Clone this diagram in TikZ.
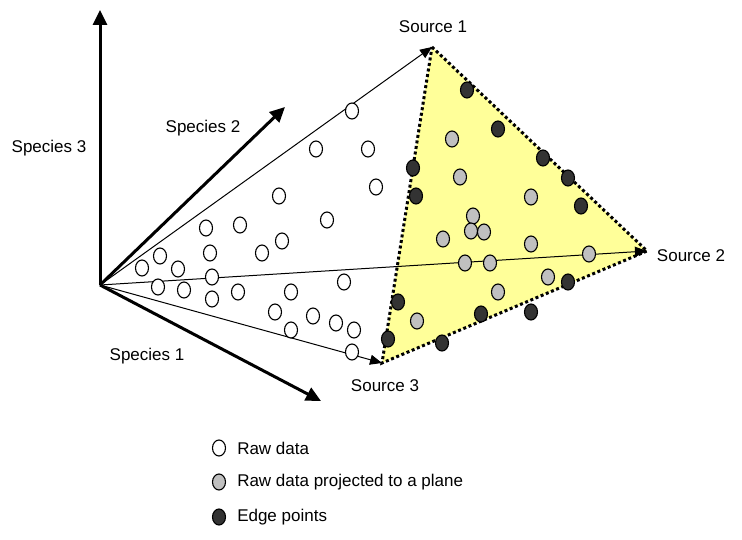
\documentclass[tikz,border=0pt]{standalone}
\usepackage{fontspec}
\setmainfont{Liberation Sans}
\usepackage{tikz}
\usetikzlibrary{arrows.meta,shapes.geometric,positioning}
\definecolor{planefill}{RGB}{255,255,153}
\definecolor{projgray}{RGB}{192,192,192}
\definecolor{edgegray}{RGB}{51,51,51}
\tikzstyle{pt}=[ellipse, draw=black, line width=1.1pt, minimum width=13pt, minimum height=16pt, inner sep=0pt]
\tikzstyle{raw}=[pt, fill=white]
\tikzstyle{proj}=[pt, fill=projgray]
\tikzstyle{edgept}=[pt, fill=edgegray]
\tikzstyle{axis}=[line width=3pt, -{Triangle[length=15pt,width=14pt]}]
\tikzstyle{ray}=[line width=1pt, -{Triangle[length=12pt,width=10pt]}]
\tikzstyle{rim}=[line width=3pt, dash pattern=on 3pt off 2.6pt]
\tikzstyle{lbl}=[font=\fontsize{17}{20}\selectfont, inner sep=0pt]

\begin{document}
\begin{tikzpicture}[x=1pt,y=-1pt]
				\useasboundingbox (0,0) rectangle (742,540);
				\coordinate(O)at(100,285);
				\coordinate(A3)at(100,10);
				\coordinate(A2)at(285,107);
				\coordinate(A1)at(321,401);
				\coordinate(S1)at(432,47);
				\coordinate(S2)at(647,251);
				\coordinate(S3)at(382,363);
				% plane through the three sources
				\fill[planefill](S1)--(S2)--(S3)--cycle;
				\draw[ray](O)--(S1);
				\draw[ray](O)--(S2);
				\draw[ray](O)--(S3);
				\draw[rim](S1)--(S2)--(S3)--cycle;
				\draw[axis](O)--(A3);
				\draw[axis](O)--(A2);
				\draw[axis](O)--(A1);
				\node[lbl](sp3)at(49,148){Species 3};
				\node[lbl](sp2)at(203,128){Species 2};
				\node[lbl](sp1)at(147,356){Species 1};
				\node[lbl](src1)at(433,27){Source 1};
				\node[lbl](src2)at(691,256){Source 2};
				\node[lbl](src3)at(385,386){Source 3};
				% data points
				\foreach \x/\y [count=\i] in {352/111,316/149,368/149,376/187,279/196,327/220,206/228,240/225,282/241,262/253,160/256,210/253,178/269,142/268,212/277,158/287,184/290,212/299,238/292,291/292,344/282,275/312,313/316,336/323,354/330,291/330,352/352}
					\node[raw](r\i)at(\x,\y){};
				\foreach \x/\y [count=\i] in {452/139,460/177,531/197,473/216,471/231,484/232,443/239,531/244,465/263,490/263,589/254,548/277,498/292,417/321}
					\node[proj](p\i)at(\x,\y){};
				\foreach \x/\y [count=\i] in {467/90,498/129,543/158,568/178,581/206,413/168,416/196,398/302,388/339,442/343,481/314,531/312,568/282}
					\node[edgept](e\i)at(\x,\y){};
				% legend
				\node[raw](k1)at(219,448){};
				\node[proj](k2)at(219,482){};
				\node[edgept](k3)at(219,517){};
				\node[lbl, right=11pt of k1](t1){Raw data};
				\node[lbl, right=11pt of k2](t2){Raw data projected to a plane};
				\node[lbl, right=11pt of k3](t3){Edge points};
			\end{tikzpicture}
\end{document}
